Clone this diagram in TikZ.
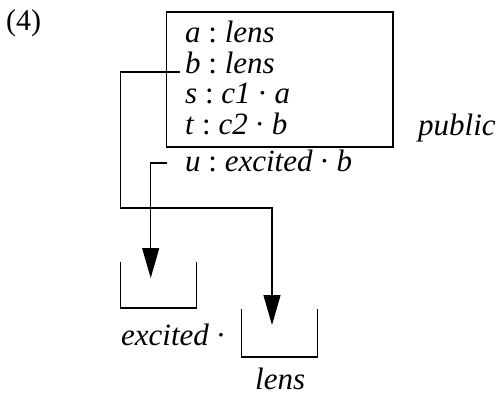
\documentclass[tikz,border=0pt]{standalone}
\usepackage{fontspec}
\setmainfont{Liberation Serif}
\usetikzlibrary{arrows.meta}
\newcommand\hasT{\hspace{0.25em}\textup{:}\hspace{0.25em}}
\newcommand\dotop{\hspace{0.22em}\textup{·}\hspace{0.22em}}
\begin{document}
\begin{tikzpicture}[x=1pt,y=-1pt,
  lbl/.style={inner sep=0pt, anchor=base west, font=\fontsize{31}{34}\selectfont\itshape},
  wire/.style={line width=1.2pt},
  arr/.style={wire,-{Triangle[width=17pt,length=30pt]}},
  bin/.style={line width=1.2pt}]
\useasboundingbox (0,0) rectangle (498,397);

% public part of the state
\draw[wire] (166.7,12) rectangle (393,147);
\node[lbl, font=\fontsize{30}{34}\selectfont] (num) at (6,30) {(4)};
\node[lbl] (la) at (185,42) {a\hasT lens};
\node[lbl] (lb) at (185,73) {b\hasT lens};
\node[lbl] (ls) at (185,103.5) {s\hasT c1\dotop a};
\node[lbl] (lt) at (185,134.5) {t\hasT c2\dotop b};
\node[lbl] (lu) at (185,171) {u\hasT excited\dotop b};
\node[lbl] (pub) at (418,135) {public};

% stores
\draw[bin] (120.7,262) |- (196.7,308) -- (196.7,262);
\draw[bin] (241.7,309) |- (317.7,357) -- (317.7,309);
\node[lbl] (exc) at (121,345) {excited\hspace{0.22em}\textup{·}};
\node[lbl] (lns) at (255,389) {lens};

% connectors
\coordinate (bout) at (180,72);
\coordinate (uout) at (166.7,163);
\coordinate (btip) at (272,325);
\coordinate (utip) at (150.7,278);
\draw[arr] (bout) -| (120.7,208) -| (btip);
\draw[arr] (uout) -| (utip);
\end{tikzpicture}
\end{document}
